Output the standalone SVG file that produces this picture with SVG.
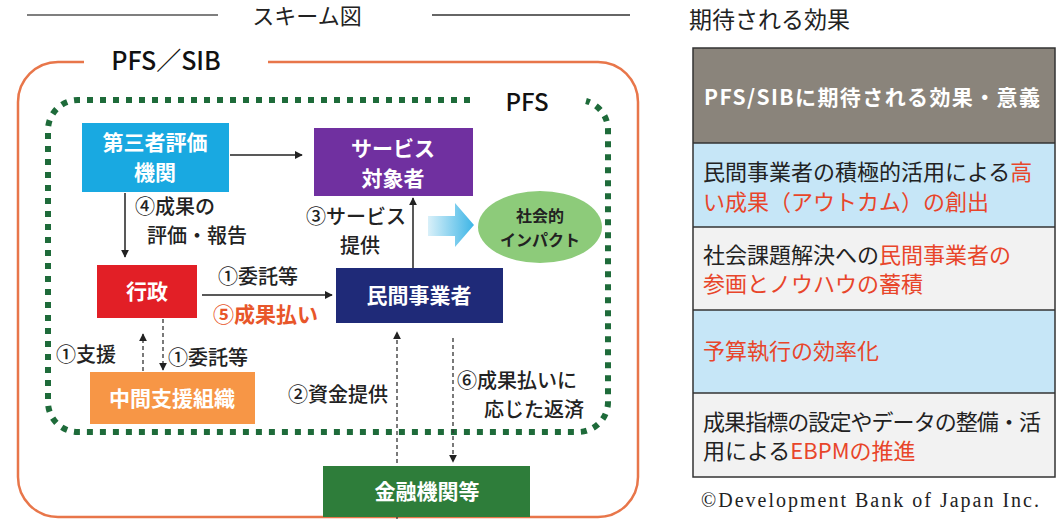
<svg xmlns="http://www.w3.org/2000/svg" width="1056" height="519" viewBox="0 0 1056 519">
<defs>
<style>
text{font-family:"Noto Sans CJK JP","Noto Sans",sans-serif;}
.nt{fill:#fff;font-weight:700;font-size:21px;text-anchor:middle;}
.lb{fill:#222;font-size:20px;font-weight:500;}
.cell{font-size:22px;fill:#222;}
.red{fill:#E8452A;}
.ln{stroke:#222;stroke-width:1.5;fill:none;}
.dl{stroke:#333;stroke-width:1.3;fill:none;stroke-dasharray:4 3;}
.row{stroke:#333;stroke-width:1.5;}
text.serif{font-family:"Liberation Serif","Times New Roman",serif;}
</style>
<marker id="ah" viewBox="0 0 10 10" refX="9" refY="5" markerWidth="8" markerHeight="8" orient="auto-start-reverse" markerUnits="userSpaceOnUse">
<path d="M0 0 L10 5 L0 10 z" fill="#222"/>
</marker>
<linearGradient id="bg" x1="0" y1="0" x2="1" y2="0">
<stop offset="0" stop-color="#D9F0F9"/>
<stop offset="1" stop-color="#3DB5E6"/>
</linearGradient>
</defs>
<rect width="1056" height="519" fill="#fff"/>

<g id="title">
<line x1="27" y1="15" x2="218" y2="15" stroke="#555" stroke-width="1.5"/>
<text x="307" y="24" font-size="22" text-anchor="middle" fill="#222">スキーム図</text>
<line x1="432" y1="15" x2="630" y2="15" stroke="#333" stroke-width="1.5"/>
</g>

<g id="frame-pfs-sib">
<path d="M 268 62 H 598 A 40 40 0 0 1 638 102 V 477 A 40 40 0 0 1 598 517 H 58 A 40 40 0 0 1 18 477 V 102 A 40 40 0 0 1 58 62 H 84" fill="none" stroke="#E8764A" stroke-width="2.5"/>
<text x="166" y="70" font-size="25" font-weight="500" text-anchor="middle" fill="#111">PFS／SIB</text>
</g>

<g id="frame-pfs">
<path d="M 470 100 H 78 A 30 30 0 0 0 48 130 V 402 A 30 30 0 0 0 78 432 H 578 A 30 30 0 0 0 608 402 V 130 A 30 30 0 0 0 586 101" fill="none" stroke="#1E6B3A" stroke-width="6" stroke-dasharray="6 7"/>
<text x="527" y="111" font-size="24" font-weight="500" text-anchor="middle" fill="#111">PFS</text>
</g>

<g id="connectors">
<line class="ln" x1="230" y1="155" x2="302" y2="155" marker-end="url(#ah)"/>
<line class="ln" x1="125" y1="193" x2="125" y2="257" marker-end="url(#ah)"/>
<line class="ln" x1="413" y1="268" x2="413" y2="198" marker-end="url(#ah)"/>
<line class="ln" x1="202" y1="295" x2="332" y2="295" marker-end="url(#ah)"/>
<line class="dl" x1="143" y1="371" x2="143" y2="334" marker-end="url(#ah)"/>
<line class="dl" x1="163" y1="319" x2="163" y2="370" marker-end="url(#ah)"/>
<line class="dl" x1="397" y1="519" x2="397" y2="332" marker-end="url(#ah)"/>
<line class="dl" x1="453" y1="338" x2="453" y2="462" marker-end="url(#ah)"/>
<text class="lb" x="135" y="214">④成果の</text>
<text class="lb" x="147" y="243">評価・報告</text>
<text class="lb" x="306" y="224">③サービス</text>
<text class="lb" x="340" y="253">提供</text>
<text class="lb" x="218" y="284">①委託等</text>
<text x="213" y="322" font-size="21" font-weight="700" fill="#E8562A">⑤成果払い</text>
<text class="lb" x="56" y="362">①支援</text>
<text class="lb" x="168" y="365">①委託等</text>
<text class="lb" x="288" y="402">②資金提供</text>
<text class="lb" x="457" y="388">⑥成果払いに</text>
<text class="lb" x="484" y="417">応じた返済</text>
</g>

<g id="arrow-impact">
<path d="M 428 216 H 455 V 203 L 474 225 L 455 247 V 236 H 428 Z" fill="url(#bg)"/>
</g>

<g id="node-hyoka">
<rect x="82" y="123" width="147" height="69" fill="#19A9E1"/>
<text class="nt" x="155" y="150">第三者評価</text>
<text class="nt" x="155" y="180">機関</text>
</g>
<g id="node-taisho">
<rect x="314" y="128" width="159" height="68" fill="#7030A0"/>
<text class="nt" x="393" y="156">サービス</text>
<text class="nt" x="393" y="186">対象者</text>
</g>
<g id="node-gyosei">
<rect x="97" y="265" width="100" height="53" fill="#E21F26"/>
<text class="nt" x="147" y="299">行政</text>
</g>
<g id="node-minkan">
<rect x="336" y="268" width="167" height="55" fill="#1F2A78"/>
<text class="nt" x="419" y="303">民間事業者</text>
</g>
<g id="node-chukan">
<rect x="90" y="372" width="165" height="52" fill="#F79646"/>
<text class="nt" x="172" y="406">中間支援組織</text>
</g>
<g id="node-kinyu">
<rect x="323" y="466" width="207" height="51" fill="#2E7D3A"/>
<text class="nt" x="427" y="499">金融機関等</text>
</g>
<g id="node-impact">
<ellipse cx="540" cy="227" rx="62" ry="36" fill="#8DCB7A"/>
<text x="540" y="222" font-size="16" font-weight="700" text-anchor="middle" fill="#222">社会的</text>
<text x="540" y="246" font-size="16" font-weight="700" text-anchor="middle" fill="#222">インパクト</text>
</g>

<g id="effects">
<text x="689" y="28" font-size="23" fill="#222">期待される効果</text>
<rect x="693" y="48" width="362" height="95" fill="#8A847B"/>
<rect x="693" y="143" width="362" height="84" fill="#C6E6F7"/>
<rect x="693" y="227" width="362" height="83" fill="#F2F2F2"/>
<rect x="693" y="310" width="362" height="83" fill="#C6E6F7"/>
<rect x="693" y="393" width="362" height="84" fill="#F2F2F2"/>
<rect x="693" y="48" width="362" height="429" fill="none" class="row"/>
<line class="row" x1="693" y1="143" x2="1055" y2="143"/>
<line class="row" x1="693" y1="227" x2="1055" y2="227"/>
<line class="row" x1="693" y1="310" x2="1055" y2="310"/>
<line class="row" x1="693" y1="393" x2="1055" y2="393"/>
<text x="704" y="105" font-size="21" font-weight="700" fill="#fff" textLength="336">PFS/SIBに期待される効果・意義</text>
<text class="cell" x="703" y="180">民間事業者の積極的活用による<tspan class="red">高</tspan></text>
<text class="cell red" x="703" y="210">い成果（アウトカム）の創出</text>
<text class="cell" x="703" y="263">社会課題解決への<tspan class="red">民間事業者の</tspan></text>
<text class="cell red" x="703" y="292">参画とノウハウの蓄積</text>
<text class="cell red" x="703" y="359">予算執行の効率化</text>
<text class="cell" x="703" y="430" textLength="338">成果指標の設定やデータの整備・活</text>
<text class="cell" x="703" y="459">用による<tspan class="red">EBPMの推進</tspan></text>
<text class="serif" x="701" y="507" font-size="20" fill="#222" textLength="338">©Development Bank of Japan Inc.</text>
</g>
</svg>
